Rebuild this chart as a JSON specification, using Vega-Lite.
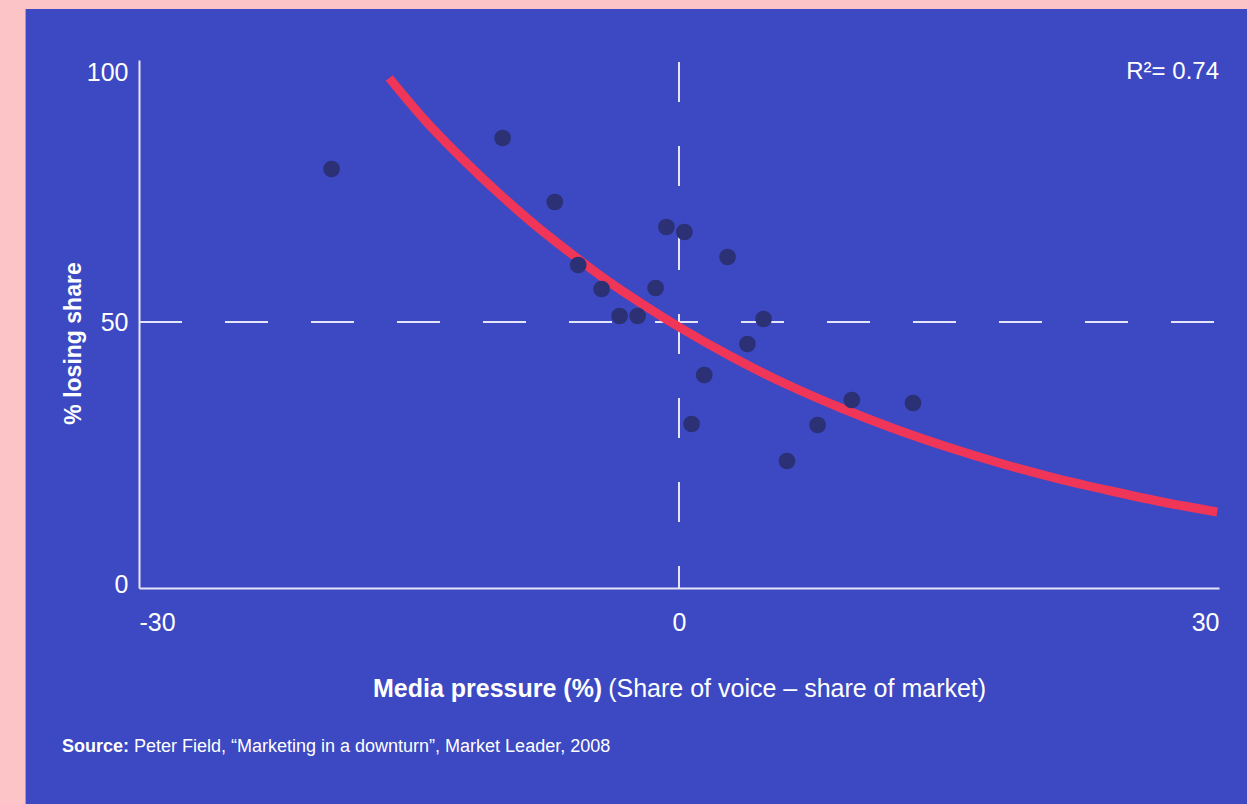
{
  "$schema": "https://vega.github.io/schema/vega-lite/v6.json",
  "width": 1080,
  "height": 528,
  "autosize": {"type": "none"},
  "padding": {"left": 139, "top": 60, "right": 28, "bottom": 216},
  "background": "#fcc4c6",
  "config": {
    "view": {"stroke": null},
    "font": "Liberation Sans",
    "axis": {
      "grid": false,
      "ticks": false,
      "domainColor": "#e4e6f7",
      "domainWidth": 2,
      "labelColor": "#ffffff",
      "labelFontSize": 25,
      "labelFont": "Liberation Sans",
      "titleColor": "#ffffff",
      "titleFont": "Liberation Sans"
    }
  },
  "datasets": {
    "points": [
      {"x": -19.3, "y": 80.6},
      {"x": -9.8, "y": 86.8},
      {"x": -6.9, "y": 74.0},
      {"x": -5.6, "y": 61.4},
      {"x": -4.3, "y": 56.6},
      {"x": -3.3, "y": 51.2},
      {"x": -2.3, "y": 51.2},
      {"x": -1.3, "y": 56.8},
      {"x": -0.7, "y": 69.0},
      {"x": 0.3, "y": 68.0},
      {"x": 2.7, "y": 63.0},
      {"x": 4.7, "y": 50.6},
      {"x": 3.8, "y": 45.6},
      {"x": 1.4, "y": 39.4},
      {"x": 0.7, "y": 29.6},
      {"x": 6.0, "y": 22.2},
      {"x": 7.7, "y": 29.4},
      {"x": 9.6, "y": 34.4},
      {"x": 13.0, "y": 33.8}
    ],
    "curve": [
      {"x": -16.1, "y": 98.8},
      {"x": -14, "y": 89.9},
      {"x": -12, "y": 82.5},
      {"x": -10, "y": 75.7},
      {"x": -8, "y": 69.4},
      {"x": -6, "y": 63.7},
      {"x": -4, "y": 58.3},
      {"x": -2, "y": 53.5},
      {"x": 0, "y": 49.0},
      {"x": 3, "y": 42.9},
      {"x": 6, "y": 37.5},
      {"x": 9, "y": 32.8},
      {"x": 12, "y": 28.6},
      {"x": 15, "y": 24.9},
      {"x": 18, "y": 21.6},
      {"x": 21, "y": 18.7},
      {"x": 24, "y": 16.2},
      {"x": 27, "y": 13.9},
      {"x": 29.9, "y": 12.0}
    ]
  },
  "layer": [
    {
      "data": {"values": [{}]},
      "mark": {"type": "rect", "color": "#3c49c2"},
      "encoding": {
        "x": {"datum": -36.3, "type": "quantitative", "scale": {"domain": [-30, 30], "nice": false, "zero": false}},
        "x2": {"datum": 40},
        "y": {"datum": 112.6, "type": "quantitative", "scale": {"domain": [-3.2, 102.4], "nice": false, "zero": false}},
        "y2": {"datum": -50}
      }
    },
    {
      "data": {"values": [{}]},
      "mark": {"type": "rule", "color": "#e4e6f7", "strokeWidth": 2, "strokeDash": [43, 43]},
      "encoding": {
        "x": {"datum": -30, "type": "quantitative", "scale": {"domain": [-30, 30], "nice": false, "zero": false}},
        "x2": {"datum": 30},
        "y": {"datum": 50, "type": "quantitative", "scale": {"domain": [-3.2, 102.4], "nice": false, "zero": false}}
      }
    },
    {
      "data": {"values": [{}]},
      "mark": {"type": "rule", "color": "#e4e6f7", "strokeWidth": 2, "strokeDash": [40, 44]},
      "encoding": {
        "x": {"datum": 0, "type": "quantitative", "scale": {"domain": [-30, 30], "nice": false, "zero": false}},
        "y": {"datum": 102, "type": "quantitative", "scale": {"domain": [-3.2, 102.4], "nice": false, "zero": false}},
        "y2": {"datum": -3.2}
      }
    },
    {
      "data": {"name": "curve"},
      "mark": {"type": "line", "color": "#ef3558", "strokeWidth": 9, "interpolate": "monotone", "strokeCap": "butt"},
      "encoding": {
        "x": {"field": "x", "type": "quantitative", "scale": {"domain": [-30, 30], "nice": false, "zero": false}},
        "y": {"field": "y", "type": "quantitative", "scale": {"domain": [-3.2, 102.4], "nice": false, "zero": false}}
      }
    },
    {
      "data": {"name": "points"},
      "mark": {"type": "point", "filled": true, "shape": "circle", "size": 280, "color": "#2c3175", "opacity": 1},
      "encoding": {
        "x": {
          "field": "x", "type": "quantitative",
          "scale": {"domain": [-30, 30], "nice": false, "zero": false},
          "axis": {"zindex": 2, "values": [-30, 0, 30], "title": null, "labelFlush": true, "labelPadding": 22, "labelExpr": "replace(datum.label, '−', '-')", "domainColor": "#e4e6f7", "domainWidth": 2, "labelColor": "#ffffff", "labelFontSize": 25, "ticks": false, "grid": false}
        },
        "y": {
          "field": "y", "type": "quantitative",
          "scale": {"domain": [-3.2, 102.4], "nice": false, "zero": false},
          "axis": {"zindex": 2, "values": [0, 50, 100], "title": "% losing share", "titleFontSize": 23, "titleFontWeight": "bold", "titleColor": "#ffffff", "labelPadding": 11, "titlePadding": 1, "titleY": 283, "labelOffset": {"condition": {"test": "datum.value === 0", "value": 12}, "value": 0}, "domainColor": "#e4e6f7", "domainWidth": 2, "labelColor": "#ffffff", "labelFontSize": 25, "ticks": false, "grid": false}
        }
      }
    },
    {
      "data": {"values": [{}]},
      "mark": {"type": "text", "text": "R²= 0.74", "align": "right", "baseline": "middle", "fontSize": 24, "color": "#ffffff"},
      "encoding": {
        "x": {"datum": 30, "type": "quantitative", "scale": {"domain": [-30, 30], "nice": false, "zero": false}},
        "y": {"datum": 100, "type": "quantitative", "scale": {"domain": [-3.2, 102.4], "nice": false, "zero": false}}
      }
    },
    {
      "data": {"values": [{}]},
      "mark": {"type": "text", "text": "Media pressure (%)", "align": "right", "baseline": "middle", "fontSize": 25, "fontWeight": "bold", "color": "#ffffff", "dx": -3},
      "encoding": {
        "x": {"datum": -4.1, "type": "quantitative", "scale": {"domain": [-30, 30], "nice": false, "zero": false}},
        "y": {"datum": -23.4, "type": "quantitative", "scale": {"domain": [-3.2, 102.4], "nice": false, "zero": false}}
      }
    },
    {
      "data": {"values": [{}]},
      "mark": {"type": "text", "text": "(Share of voice – share of market)", "align": "left", "baseline": "middle", "fontSize": 25, "color": "#ffffff", "dx": 3},
      "encoding": {
        "x": {"datum": -4.1, "type": "quantitative", "scale": {"domain": [-30, 30], "nice": false, "zero": false}},
        "y": {"datum": -23.4, "type": "quantitative", "scale": {"domain": [-3.2, 102.4], "nice": false, "zero": false}}
      }
    },
    {
      "data": {"values": [{}]},
      "mark": {"type": "text", "text": "Source:", "align": "left", "baseline": "middle", "fontSize": 18, "fontWeight": "bold", "color": "#ffffff"},
      "encoding": {
        "x": {"datum": -34.28, "type": "quantitative", "scale": {"domain": [-30, 30], "nice": false, "zero": false}},
        "y": {"datum": -35, "type": "quantitative", "scale": {"domain": [-3.2, 102.4], "nice": false, "zero": false}}
      }
    },
    {
      "data": {"values": [{}]},
      "mark": {"type": "text", "text": "Peter Field, “Marketing in a downturn”, Market Leader, 2008", "align": "left", "baseline": "middle", "fontSize": 18, "color": "#ffffff", "dx": 72},
      "encoding": {
        "x": {"datum": -34.28, "type": "quantitative", "scale": {"domain": [-30, 30], "nice": false, "zero": false}},
        "y": {"datum": -35, "type": "quantitative", "scale": {"domain": [-3.2, 102.4], "nice": false, "zero": false}}
      }
    }
  ]
}
